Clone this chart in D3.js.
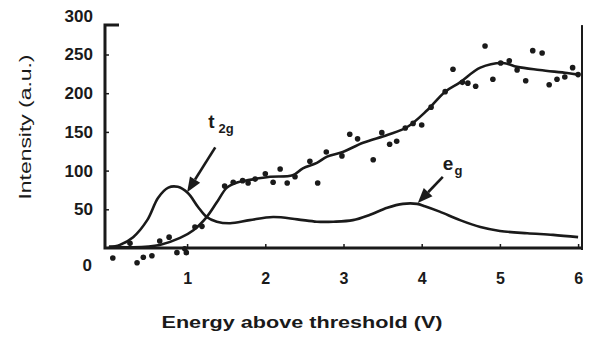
<!DOCTYPE html>
<html><head><meta charset="utf-8">
<script src="https://cdn.jsdelivr.net/npm/d3@7"></script>
<style>
html,body{margin:0;padding:0;background:#fff;}
svg{display:block;}
text{font-family:"Liberation Sans",Arial,Helvetica,sans-serif;fill:#1a1a1a;}
</style></head>
<body>
<svg id="chart" width="589" height="346"></svg>
<script>
// ---- data ----
const xTicks = [1, 2, 3, 4, 5, 6];
const yTicks = [50, 100, 150, 200, 250];
const yLabels = [0, 50, 100, 150, 200, 250, 300];

// measured data points (energy, intensity)
const dotX = [0.05,0.27,0.36,0.44,0.55,0.65,0.77,0.87,0.99,0.97,1.10,1.19,1.48,1.59,1.71,1.78,1.87,2.00,2.10,2.19,2.28,2.38,2.57,2.67,2.78,2.98,3.08,3.18,3.38,3.49,3.59,3.68,3.79,3.89,4.00,4.12,4.30,4.40,4.52,4.59,4.69,4.81,4.91,5.01,5.12,5.22,5.33,5.42,5.54,5.63,5.73,5.83,5.93,6.00];
const dotY = [-13,6,-19,-12,-10,9,14,-6,-6,-1,27,28,80,85,87,84,89,96,85,102,84,92,112,84,124,119,147,141,114,149,134,138,155,161,159,182,202,231,214,213,209,261,218,239,242,230,216,255,252,211,218,221,233,224];

// fitted total curve
const fitX = [0,0.31,0.65,0.91,1.08,1.25,1.38,1.51,1.65,1.80,2.06,2.35,2.48,2.66,2.79,2.99,3.25,3.56,3.81,4.07,4.30,4.49,4.75,5.04,5.22,5.51,5.86,6.0];
const fitY = [2,1,4,13,23,40,59,78,85,88,92,94,103,110,118,124,136,146,156,178,202,214,233,239,234,230,226,224];

// component curve (t2g + eg)
const compX = [0,0.14,0.31,0.49,0.63,0.76,0.88,1.01,1.14,1.25,1.38,1.55,1.80,2.10,2.41,2.66,2.87,3.12,3.34,3.56,3.76,3.94,4.04,4.23,4.49,4.75,5.00,5.35,5.68,6.0];
const compY = [1,4,14,36,65,78,79,71,53,40,34,32,36,40,37,34,34,36,43,52,57,57,54,47,36,27,22,19,17,14];

// annotations: [labelX, labelY, arrowTailX, arrowTailY, arrowTipX, arrowTipY]
const t2gAnno = [1.27, 155, 1.36, 130, 1.0, 72];
const egAnno = [4.27, 101, 4.27, 92, 3.95, 58];

// ---- chart ----
const svg = d3.select("#chart");
const x = d3.scaleLinear().domain([0, 6]).range([108.9, 578.1]);
const y = d3.scaleLinear().domain([0, 300]).range([248, 15.8]);
const ink = "#1a1a1a";

const xL = x(-0.05), xR = x(6.05), yB = y(0), yT = y(288);

// frame
const frame = svg.append("g").attr("stroke", ink).attr("fill", "none");
frame.append("path").attr("stroke-width", 3)
  .attr("d", `M${xL + 14},${yT} H${xL} V${yB} H${xR}`);
frame.append("path").attr("stroke-width", 2)
  .attr("d", `M${xR},${yT} V${yB + 2}`);

// inward ticks
svg.append("g").attr("transform", `translate(${xL},0)`)
  .call(d3.axisLeft(y).tickValues(yTicks).tickSize(-4).tickFormat(""))
  .call(g => { g.select(".domain").remove(); g.selectAll("line").attr("stroke", ink).attr("stroke-width", 1.5); });
svg.append("g").attr("transform", `translate(0,${yB})`)
  .call(d3.axisBottom(x).tickValues(xTicks).tickSize(-4).tickFormat(""))
  .call(g => { g.select(".domain").remove(); g.selectAll("line").attr("stroke", ink).attr("stroke-width", 1.5); });

// tick labels
svg.append("g").attr("transform", `translate(${xL},0)`)
  .call(d3.axisLeft(y).tickValues(yLabels).tickSize(0).tickPadding(12).tickFormat(d3.format("d")))
  .call(g => {
    g.select(".domain").remove();
    g.selectAll("text").attr("font-size", 17).attr("font-weight", "bold").attr("fill", ink)
      .attr("font-family", '"Liberation Sans",Arial,sans-serif');
    g.selectAll(".tick").filter(d => d === 0).select("text").attr("dy", "1.3em").attr("x", -13);
  });
svg.append("g").attr("transform", `translate(0,${yB})`)
  .call(d3.axisBottom(x).tickValues(xTicks).tickSize(0).tickPadding(25).tickFormat(d3.format("d")))
  .call(g => {
    g.select(".domain").remove();
    g.selectAll("text").attr("font-size", 16).attr("font-weight", "bold").attr("fill", ink)
      .attr("font-family", '"Liberation Sans",Arial,sans-serif');
  });

// axis titles
svg.append("text").attr("x", 302).attr("y", 328).attr("text-anchor", "middle")
  .attr("font-size", 17).attr("font-weight", "bold")
  .attr("textLength", 281).attr("lengthAdjust", "spacingAndGlyphs")
  .text("Energy above threshold (V)");
svg.append("text").attr("transform", "translate(31,127) rotate(-90)").attr("text-anchor", "middle")
  .attr("font-size", 17)
  .attr("textLength", 145).attr("lengthAdjust", "spacingAndGlyphs")
  .text("Intensity (a.u.)");

// curves
const line = d3.line().x(d => x(d[0])).y(d => y(d[1])).curve(d3.curveCatmullRom.alpha(0.5));
svg.append("path").datum(compX.map((v, i) => [v, compY[i]]))
  .attr("d", line).attr("fill", "none").attr("stroke", ink).attr("stroke-width", 2.6).attr("stroke-linejoin", "round");
svg.append("path").datum(fitX.map((v, i) => [v, fitY[i]]))
  .attr("d", line).attr("fill", "none").attr("stroke", ink).attr("stroke-width", 2.6).attr("stroke-linejoin", "round");

// dots
svg.append("g").selectAll("circle").data(dotX.map((v, i) => [v, dotY[i]])).join("circle")
  .attr("cx", d => x(d[0])).attr("cy", d => y(d[1])).attr("r", 2.8).attr("fill", ink);

// annotations
function anno(a, main, sub) {
  const t = svg.append("text").attr("x", x(a[0])).attr("y", y(a[1]))
    .attr("font-size", 19).attr("font-weight", "bold");
  t.append("tspan").text(main);
  t.append("tspan").attr("font-size", 13).attr("dx", main === "t" ? 4 : 1).attr("dy", 5).text(sub);
  const x1 = x(a[2]), y1 = y(a[3]), x2 = x(a[4]), y2 = y(a[5]);
  const ang = Math.atan2(y2 - y1, x2 - x1);
  const L = 15, W = 6;
  const bx = x2 - L * Math.cos(ang), by = y2 - L * Math.sin(ang);
  svg.append("line").attr("x1", x1).attr("y1", y1).attr("x2", bx).attr("y2", by)
    .attr("stroke", ink).attr("stroke-width", 2.6);
  const px = -Math.sin(ang), py = Math.cos(ang);
  svg.append("path").attr("fill", ink)
    .attr("d", `M${x2},${y2} L${bx + W * px},${by + W * py} L${bx - W * px},${by - W * py} Z`);
}
anno(t2gAnno, "t", "2g");
anno(egAnno, "e", "g");
</script>
</body></html>
